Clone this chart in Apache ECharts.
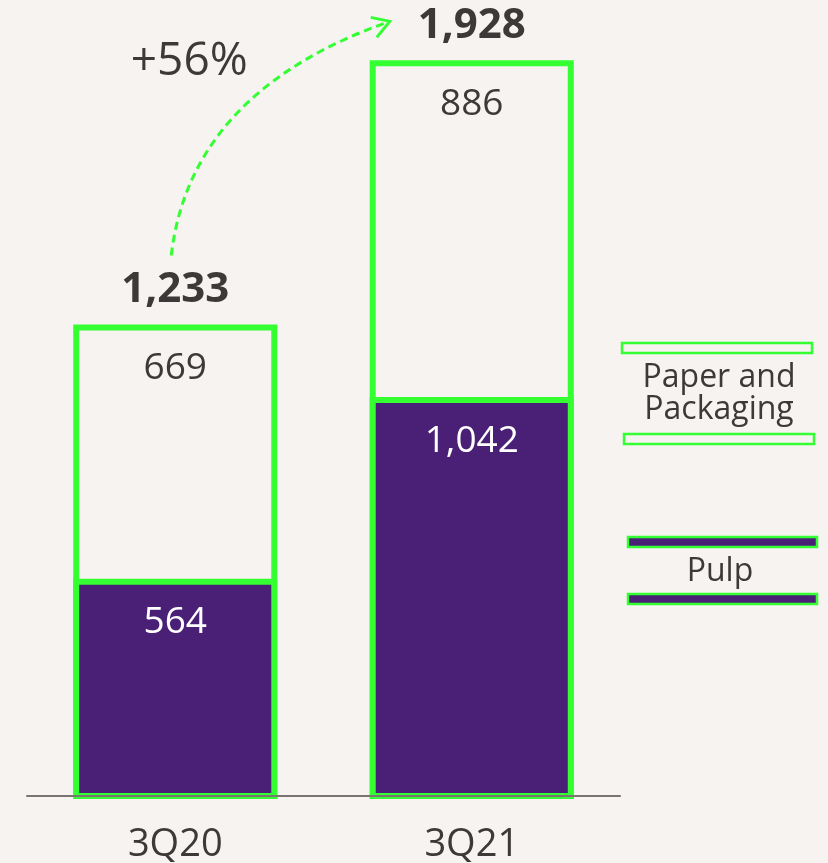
<!DOCTYPE html>
<html>
<head>
<meta charset="utf-8">
<script src="https://cdn.jsdelivr.net/npm/echarts@6/dist/echarts.min.js"></script>
<style>
html,body{margin:0;padding:0;background:#f6f3f0;}
#c{width:828px;height:863px;}
</style>
</head>
<body>
<div id="c"></div>
<script>
const categories = ['3Q20', '3Q21'];
const pulp = [564, 1042];
const paperPackaging = [669, 886];
const totals = [1233, 1928];
const seriesNames = ['Pulp', 'Paper and\nPackaging'];

const GREEN = '#33ff33';
const PURPLE = '#4a2076';
const BG = '#f6f3f0';
const TEXT = '#3d3938';
const FONT = 'Open Sans';

const fmt = v => v.toLocaleString('en-US');

const chart = echarts.init(document.getElementById('c'));

const barData = categories.map((c, i) => [i, pulp[i], paperPackaging[i], totals[i]]);

function renderItem(params, api) {
  const idx = api.value(0);
  const pv = api.value(1);
  const qv = api.value(2);
  const tv = api.value(3);
  const base = api.coord([idx, 0]);
  const pTop = api.coord([idx, pv]);
  const tTop = api.coord([idx, pv + qv]);
  const w = api.size([1, 0])[0] * 0.668;
  const x = base[0] - w / 2;
  return {
    type: 'group',
    children: [
      { type: 'rect', shape: { x: x, y: tTop[1], width: w, height: base[1] - tTop[1] },
        style: { fill: BG, stroke: GREEN, lineWidth: 6 } },
      { type: 'rect', shape: { x: x, y: pTop[1], width: w, height: base[1] - pTop[1] },
        style: { fill: PURPLE, stroke: GREEN, lineWidth: 6 } },
      { type: 'text', x: base[0], y: pTop[1] + 41,
        style: { text: fmt(pv), fill: '#ffffff', fontSize: 37, fontFamily: FONT,
          align: 'center', verticalAlign: 'middle' } },
      { type: 'text', x: base[0], y: tTop[1] + 41,
        style: { text: fmt(qv), fill: TEXT, fontSize: 37, fontFamily: FONT,
          align: 'center', verticalAlign: 'middle' } },
      { type: 'text', x: base[0], y: api.coord([idx, tv])[1] - 37,
        style: { text: fmt(tv), fill: TEXT, fontSize: 42, fontWeight: 'bold', fontFamily: FONT,
          align: 'center', verticalAlign: 'middle' } }
    ]
  };
}

const option = {
  backgroundColor: BG,
  animation: false,
  textStyle: { fontFamily: FONT },
  grid: { left: 27, right: 208, top: 36, bottom: 67, outerBoundsMode: 'none', containLabel: false },
  xAxis: {
    type: 'category',
    data: categories,
    axisLine: { lineStyle: { color: '#7a7572', width: 2 } },
    axisTick: { show: false },
    axisLabel: { color: TEXT, fontSize: 38, fontFamily: FONT, margin: 30 },
    z: 10
  },
  yAxis: { type: 'value', min: 0, max: 2000, show: false, splitLine: { show: false } },
  series: [
    {
      name: 'bars', type: 'custom', renderItem: renderItem, data: barData,
      encode: { x: 0, y: [1, 3] }, clip: false
    }
  ]
};
chart.setOption(option);

const p0 = chart.convertToPixel({ xAxisIndex: 0, yAxisIndex: 0 }, [0, totals[0]]);
const p1 = chart.convertToPixel({ xAxisIndex: 0, yAxisIndex: 0 }, [1, totals[1]]);
const growth = Math.round((totals[1] / totals[0] - 1) * 100);

const sx = p0[0] - 4, sy = p0[1] - 72;
const ex = p1[0] - 82, ey = p1[1] - 42;

chart.setOption({
  graphic: [
    { type: 'bezierCurve', shape: { x1: sx, y1: sy, x2: ex, y2: ey, cpx1: sx + 19, cpy1: ey + 70 },
      style: { stroke: GREEN, lineWidth: 3, lineDash: [8, 5], fill: null } },
    { type: 'polyline', shape: { points: [[ex - 19, ey - 4], [ex, ey], [ex - 13, ey + 16]] },
      style: { stroke: GREEN, lineWidth: 3, fill: null } },
    { type: 'text', x: p0[0] + 14, y: p1[1] - 1,
      style: { text: '+' + growth + '%', fill: TEXT, fontSize: 46, fontFamily: FONT,
        align: 'center', verticalAlign: 'middle' } },
    // legend: Paper and Packaging
    { type: 'rect', shape: { x: 622, y: 343, width: 190, height: 10 },
      style: { fill: BG, stroke: GREEN, lineWidth: 2.5 } },
    { type: 'text', x: 719, y: 394,
      style: { text: seriesNames[1], fill: TEXT, fontSize: 32, lineHeight: 32, fontFamily: FONT,
        align: 'center', verticalAlign: 'middle' } },
    { type: 'rect', shape: { x: 624, y: 434, width: 190, height: 10 },
      style: { fill: BG, stroke: GREEN, lineWidth: 2.5 } },
    // legend: Pulp
    { type: 'rect', shape: { x: 628, y: 537, width: 189, height: 10 },
      style: { fill: PURPLE, stroke: GREEN, lineWidth: 2.5 } },
    { type: 'text', x: 720, y: 572,
      style: { text: seriesNames[0], fill: TEXT, fontSize: 32, fontFamily: FONT,
        align: 'center', verticalAlign: 'middle' } },
    { type: 'rect', shape: { x: 628, y: 594, width: 189, height: 10 },
      style: { fill: PURPLE, stroke: GREEN, lineWidth: 2.5 } }
  ]
});
</script>
</body>
</html>
